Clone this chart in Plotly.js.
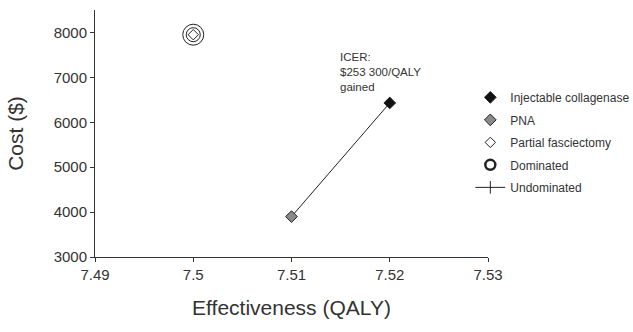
<!DOCTYPE html>
<html>
<head>
<meta charset="utf-8">
<script src="https://cdn.plot.ly/plotly-3.0.1.min.js"></script>
<style>html,body{margin:0;padding:0;background:#fff;}#chart{width:633px;height:332px;}</style>
</head>
<body>
<div id="chart"></div>
<script>
// Data
const strategies = ["Injectable collagenase", "PNA", "Partial fasciectomy"];
const effectiveness = [7.52, 7.51, 7.50];   // QALY
const cost = [6430, 3900, 7950];            // $
const dominated = ["Partial fasciectomy"];
const undominated = ["PNA", "Injectable collagenase"];
const icerText = ["ICER:", "$253 300/QALY", "gained"];
const xTicks = [7.49, 7.50, 7.51, 7.52, 7.53];
const xTickLabels = ["7.49", "7.5", "7.51", "7.52", "7.53"];
const yTicks = [3000, 4000, 5000, 6000, 7000, 8000];

const ink = "#222";
const fills = {"Injectable collagenase": "#111111", "PNA": "#8a8a8a", "Partial fasciectomy": "#ffffff"};
const sizes = {"Injectable collagenase": 9, "PNA": 9, "Partial fasciectomy": 8};
const idx = n => strategies.indexOf(n);

const traces = [];
// Undominated frontier line
traces.push({
  x: undominated.map(n => effectiveness[idx(n)]),
  y: undominated.map(n => cost[idx(n)]),
  mode: "lines", line: {color: ink, width: 1}, showlegend: false, hoverinfo: "skip"
});
// Dominated rings
[21, 14].forEach(s => traces.push({
  x: dominated.map(n => effectiveness[idx(n)]),
  y: dominated.map(n => cost[idx(n)]),
  mode: "markers", showlegend: false, hoverinfo: "skip",
  marker: {symbol: "circle-open", size: s, color: ink, line: {width: 1, color: ink}}
}));
// Strategies
strategies.forEach((n, i) => traces.push({
  x: [effectiveness[i]], y: [cost[i]], name: n, mode: "markers", legendgroup: "g" + i,
  marker: {symbol: "diamond", size: sizes[n], color: fills[n], line: {width: 1, color: ink}}
}));
// Legend-only keys
traces.push({x: [null], y: [null], name: "Dominated", mode: "markers", legendgroup: "gd",
  marker: {symbol: "circle-open", size: 10, color: ink, line: {width: 2.5, color: ink}}});
traces.push({x: [null], y: [null], name: "Undominated", mode: "lines+markers", legendgroup: "gu",
  line: {color: ink, width: 1}, marker: {symbol: "line-ns-open", size: 9, color: ink, line: {width: 1, color: ink}}});

const layout = {
  width: 633, height: 332,
  margin: {l: 95, r: 145, t: 10, b: 75, autoexpand: false},
  paper_bgcolor: "#fff", plot_bgcolor: "#fff",
  font: {family: "Liberation Sans, Arial, sans-serif", color: "#333"},
  showlegend: true,
  legend: {x: 0.955, xanchor: "left", y: 0.705, yanchor: "top", traceorder: "grouped",
    font: {size: 12, color: "#333"}, bgcolor: "rgba(0,0,0,0)", tracegroupgap: 3.5},
  xaxis: {range: [7.49, 7.53], tickvals: xTicks, ticktext: xTickLabels,
    showgrid: false, zeroline: false, showline: true, linecolor: "#333", linewidth: 1,
    ticks: "outside", ticklen: 4, tickcolor: "#333", tickfont: {size: 15, color: "#333"},
    title: {text: "Effectiveness (QALY)", font: {size: 21, color: "#333"}, standoff: 18}},
  yaxis: {range: [3000, 8500], tickvals: yTicks,
    showgrid: false, zeroline: false, showline: true, linecolor: "#333", linewidth: 1,
    ticks: "outside", ticklen: 4, tickcolor: "#333", tickfont: {size: 15, color: "#333"},
    title: {text: "Cost ($)", font: {size: 21, color: "#333"}, standoff: 24}},
  annotations: [{
    x: 7.5147, y: 7640, xref: "x", yref: "y", xanchor: "left", yanchor: "top",
    text: icerText.join("<br>"), align: "left", showarrow: false,
    font: {size: 11.5, color: "#333"}
  }]
};

Plotly.newPlot("chart", traces, layout, {displayModeBar: false, staticPlot: true});
</script>
</body>
</html>
